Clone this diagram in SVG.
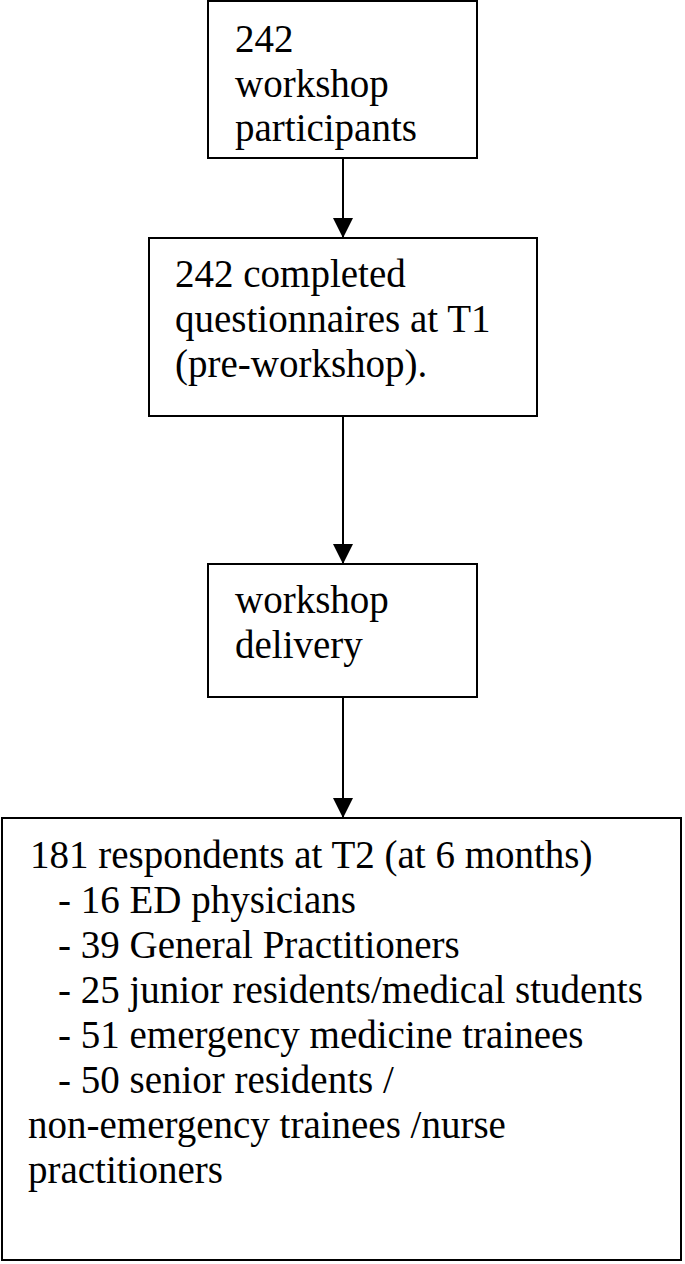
<svg xmlns="http://www.w3.org/2000/svg" width="685" height="1264" viewBox="0 0 685 1264">
<style>
.box{fill:#fff;stroke:#000;stroke-width:2}
.t{font-family:"Liberation Serif","Times New Roman",serif;font-size:39px;fill:#000}
.c{stroke:#000;stroke-width:2;fill:none}
</style>
<defs>
<marker id="ah" markerUnits="userSpaceOnUse" markerWidth="20" markerHeight="20" refX="20" refY="10" orient="auto">
<path d="M0,0 L20,10 L0,20 Z" fill="#000"/>
</marker>
</defs>
<rect width="685" height="1264" fill="#fff"/>
<g id="connectors">
<line class="c" x1="343" y1="158" x2="343" y2="238" marker-end="url(#ah)"/>
<line class="c" x1="343" y1="416" x2="343" y2="564" marker-end="url(#ah)"/>
<line class="c" x1="343" y1="697" x2="343" y2="818" marker-end="url(#ah)"/>
</g>
<g id="n1">
<rect class="box" x="208" y="1" width="269" height="157"/>
<text class="t" x="235" y="52">242</text>
<text class="t" x="235" y="97">workshop</text>
<text class="t" x="235" y="141">participants</text>
</g>
<g id="n2">
<rect class="box" x="149" y="238" width="388" height="178"/>
<text class="t" x="175" y="287">242 completed</text>
<text class="t" x="175" y="332">questionnaires at T1</text>
<text class="t" x="175" y="377">(pre-workshop).</text>
</g>
<g id="n3">
<rect class="box" x="208" y="564" width="269" height="133"/>
<text class="t" x="235" y="613">workshop</text>
<text class="t" x="235" y="658">delivery</text>
</g>
<g id="n4">
<rect class="box" x="2" y="818" width="679" height="442"/>
<text class="t" x="30" y="868">181 respondents at T2 (at 6 months)</text>
<text class="t" x="58" y="913">- 16 ED physicians</text>
<text class="t" x="58" y="958">- 39 General Practitioners</text>
<text class="t" x="58" y="1003">- 25 junior residents/medical students</text>
<text class="t" x="58" y="1048">- 51 emergency medicine trainees</text>
<text class="t" x="58" y="1093">- 50 senior residents /</text>
<text class="t" x="28" y="1138">non-emergency trainees /nurse</text>
<text class="t" x="28" y="1183">practitioners</text>
</g>
</svg>
